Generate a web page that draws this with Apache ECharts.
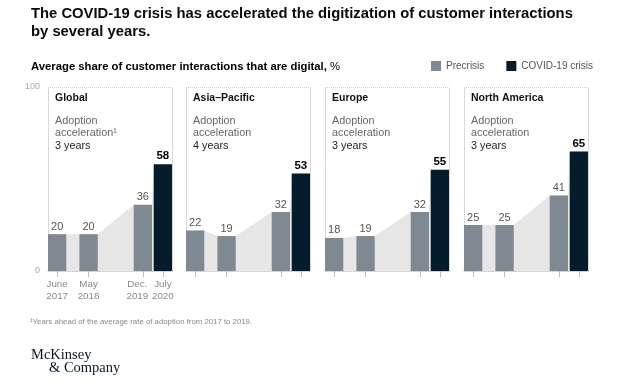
<!DOCTYPE html>
<html><head><meta charset="utf-8">
<script src="https://cdn.jsdelivr.net/npm/echarts@6/dist/echarts.min.js"></script>
<style>html,body{margin:0;padding:0;background:#fff}#c{width:628px;height:386px}</style>
</head><body><div id="c"></div>
<script>
// ---- data ----
const regions = ['Global', 'Asia\u2013Pacific', 'Europe', 'North America'];
const accelerationYears = ['3 years', '4 years', '3 years', '3 years'];
const periodLabels = ['June\n2017', 'May\n2018', 'Dec.\n2019', 'July\n2020'];
const periodMonths = [0, 11, 30, 37]; // months after June 2017
const precrisisGlobal = [20, 20, 36];
const precrisisAsiaPacific = [22, 19, 32];
const precrisisEurope = [18, 19, 32];
const precrisisNorthAmerica = [25, 25, 41];
const covidCrisis = [58, 53, 55, 65];
const yTicks = [0, 100];

const precrisis = [precrisisGlobal, precrisisAsiaPacific, precrisisEurope, precrisisNorthAmerica];

// ---- layout / style ----
const FONT = '"Liberation Sans", Arial, sans-serif';
const GRAY_BAR = '#7e8992';
const DARK_BAR = '#051c2c';
const gridLefts = [48, 186, 325, 464];
const gridW = 124, gridTop = 87, gridH = 184;
const xMin = -3.2, xMax = 40.2, half = 3.2;
const barW = 2 * half * gridW / (xMax - xMin);
const labelFmt = v => periodLabels[periodMonths.indexOf(v)] || '';

const grids = [], xAxes = [], yAxes = [], series = [], graphics = [];

regions.forEach((name, i) => {
  grids.push({ left: gridLefts[i], top: gridTop, width: gridW, height: gridH, containLabel: false });
  xAxes.push({
    gridIndex: i, type: 'value', min: xMin, max: xMax,
    splitLine: { show: false },
    axisLine: { onZero: false, lineStyle: { color: '#cfcfcf', width: 1.5 } },
    axisTick: { show: true, customValues: periodMonths, length: 6, lineStyle: { color: '#bdbdbd' } },
    axisLabel: {
      show: i === 0, customValues: [periodMonths[0], periodMonths[1], periodMonths[3]], margin: 8, hideOverlap: false,
      fontFamily: FONT, fontSize: 9.8, lineHeight: 11.5, color: '#8a8a8a', formatter: labelFmt
    }
  });
  yAxes.push({
    gridIndex: i, type: 'value', min: yTicks[0], max: yTicks[1], interval: 100, position: 'left',
    axisLine: { show: true, onZero: false, lineStyle: { color: '#cfcfcf', type: 'dotted' } },
    axisTick: { show: false },
    splitLine: { show: true, lineStyle: { color: '#cfcfcf', type: 'dotted' } },
    axisLabel: { show: i === 0, fontFamily: FONT, fontSize: 9, color: '#a8a8a8', margin: 8 }
  });
  yAxes.push({
    gridIndex: i, type: 'value', min: yTicks[0], max: yTicks[1], interval: 100, position: 'right',
    axisLine: { show: true, onZero: false, lineStyle: { color: '#cfcfcf', type: 'dotted' } },
    axisTick: { show: false }, splitLine: { show: false }, axisLabel: { show: false }
  });

  const vals = precrisis[i].concat([covidCrisis[i]]);
  const areaPts = [];
  periodMonths.forEach((m, k) => { areaPts.push([m - half, vals[k]]); areaPts.push([m + half, vals[k]]); });
  series.push({
    type: 'line', xAxisIndex: i, yAxisIndex: 2 * i, data: areaPts, symbol: 'none', silent: true,
    lineStyle: { width: 0 }, areaStyle: { color: '#e6e6e6', opacity: 1 }, z: 1
  });
  series.push({
    name: 'Precrisis', type: 'bar', xAxisIndex: i, yAxisIndex: 2 * i, barWidth: barW, barGap: '-100%',
    data: precrisis[i].map((v, k) => [periodMonths[k], v]),
    itemStyle: { color: GRAY_BAR }, z: 3,
    label: { show: true, position: 'top', distance: 2, fontFamily: FONT, fontSize: 11, color: '#555',
      formatter: p => p.value[1] }
  });
  series.push({
    name: 'COVID-19 crisis', type: 'bar', xAxisIndex: i, yAxisIndex: 2 * i, barWidth: barW, barGap: '-100%',
    data: [[periodMonths[3], covidCrisis[i]]],
    itemStyle: { color: DARK_BAR }, z: 3,
    label: { show: true, position: 'top', distance: 2, fontFamily: FONT, fontSize: 11.5, fontWeight: 'bold', color: '#000',
      formatter: p => p.value[1] }
  });

  const tx = gridLefts[i] + 7;
  graphics.push({ type: 'text', x: tx, y: 98, style: { text: name, font: 'bold 10.5px ' + FONT, fill: '#111', verticalAlign: 'middle' } });
  graphics.push({ type: 'text', x: tx, y: 121.5, style: { text: 'Adoption', font: '10.8px ' + FONT, fill: '#666', verticalAlign: 'middle' } });
  graphics.push({ type: 'text', x: tx, y: 133.5, style: { text: i === 0 ? 'acceleration\u00b9' : 'acceleration', font: '10.8px ' + FONT, fill: '#666', verticalAlign: 'middle' } });
  graphics.push({ type: 'text', x: tx, y: 146, style: { text: accelerationYears[i], font: '10.8px ' + FONT, fill: '#222', verticalAlign: 'middle' } });
});

// extra label-only axis in the Global panel for the "Dec. 2019" label (avoids overlap hiding)
xAxes.push({
  gridIndex: 0, type: 'value', min: xMin, max: xMax, position: 'bottom',
  splitLine: { show: false }, axisLine: { show: false }, axisTick: { show: false },
  axisLabel: { show: true, customValues: [periodMonths[2]], margin: 8, hideOverlap: false,
    padding: [0, 11, 0, 0],
    fontFamily: FONT, fontSize: 9.8, lineHeight: 11.5, color: '#8a8a8a', formatter: labelFmt }
});

graphics.push({ type: 'text', x: 31, y: 13.5, style: { text: 'The COVID-19 crisis has accelerated the digitization of customer interactions', font: 'bold 14.8px ' + FONT, fill: '#0a0a0a', verticalAlign: 'middle' } });
graphics.push({ type: 'text', x: 31, y: 32, style: { text: 'by several years.', font: 'bold 14.8px ' + FONT, fill: '#0a0a0a', verticalAlign: 'middle' } });
graphics.push({ type: 'text', x: 31, y: 66.5, style: {
  text: '{b|Average share of customer interactions that are digital,}{r| %}',
  verticalAlign: 'middle',
  rich: { b: { fontFamily: FONT, fontWeight: 'bold', fontSize: 11.3, color: '#222' },
          r: { fontFamily: FONT, fontSize: 11.3, color: '#555' } }
} });
graphics.push({ type: 'text', x: 30, y: 322, style: { text: '\u00b9Years ahead of the average rate of adoption from 2017 to 2019.', font: '7.8px ' + FONT, fill: '#888', verticalAlign: 'middle' } });
graphics.push({ type: 'text', x: 31, y: 355, style: { text: 'McKinsey', font: '14.5px "Liberation Serif", "Times New Roman", serif', fill: '#051c2c', verticalAlign: 'middle' } });
graphics.push({ type: 'text', x: 49, y: 368.5, style: { text: '& Company', font: '14.5px "Liberation Serif", "Times New Roman", serif', fill: '#051c2c', verticalAlign: 'middle' } });

const chart = echarts.init(document.getElementById('c'), null, { renderer: 'canvas' });
chart.setOption({
  animation: false,
  backgroundColor: '#fff',
  legend: {
    data: ['Precrisis', 'COVID-19 crisis'], left: 431, top: 61, padding: 0,
    itemWidth: 10, itemHeight: 10, itemGap: 22, icon: 'rect',
    textStyle: { fontFamily: FONT, fontSize: 10, color: '#555' }
  },
  grid: grids, xAxis: xAxes, yAxis: yAxes, series: series,
  graphic: graphics
});
</script></body></html>
